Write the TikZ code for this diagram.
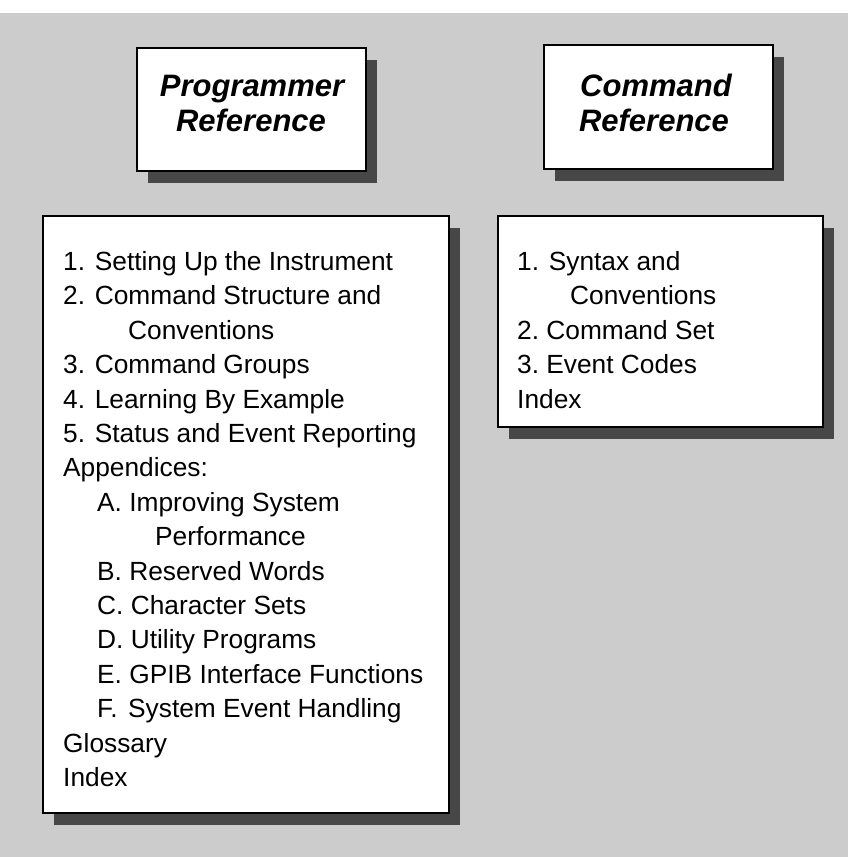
\documentclass[tikz,border=0pt]{standalone}
\usepackage{fontspec}
\setmainfont{Liberation Sans}
\usetikzlibrary{shadows}
\begin{document}
\begin{tikzpicture}[x=1pt,y=-1pt,
  page/.style={draw=black, line width=1.6pt, fill=white, anchor=north west, inner sep=0pt,
    drop shadow={shadow xshift=11pt, shadow yshift=-12pt, fill=black!72, opacity=1}},
  title/.style={font=\fontsize{31}{36}\selectfont\bfseries\itshape, anchor=base, inner sep=0pt},
  item/.style={font=\fontsize{26.3}{34}\selectfont, anchor=base west, inner sep=0pt}]
\useasboundingbox (0,0) rectangle (848,857);
\fill[gray!40] (0,13) rectangle (848,857);
% title boxes
\node[page, minimum width=229pt, minimum height=123pt] (pr) at (136,47) {};
\node[page, minimum width=229pt, minimum height=124pt] (cr) at (543,44) {};
\node[title] (prt1) at (252,96) {Programmer};
\node[title] (prt2) at (251,131) {Reference};
\node[title] (crt1) at (656,96) {Command};
\node[title] (crt2) at (654,131) {Reference};
% content boxes
\node[page, minimum width=406pt, minimum height=597pt] (pl) at (42,215) {};
\node[page, minimum width=325pt, minimum height=211pt] (cl) at (497,215) {};
\foreach \i/\xx/\txt in {
  0/63/{1. Setting Up the Instrument},
  1/63/{2. Command Structure and},
  2/128/{Conventions},
  3/63/{3. Command Groups},
  4/63/{4. Learning By Example},
  5/63/{5. Status and Event Reporting},
  6/63/{Appendices:},
  7/97/{A. Improving System},
  8/155/{Performance},
  9/97/{B. Reserved Words},
  10/97/{C. Character Sets},
  11/97/{D. Utility Programs},
  12/97/{E. GPIB Interface Functions},
  13/97/{F.\hspace{0.4em}System Event Handling},
  14/63/{Glossary},
  15/63/{Index}}
  \node[item] (p\i) at (\xx, 270.5+34.4*\i) {\txt};
\foreach \i/\xx/\txt in {
  0/517/{1. Syntax and},
  1/570/{Conventions},
  2/517/{2.\ Command Set},
  3/517/{3.\ Event Codes},
  4/517/{Index}}
  \node[item] (c\i) at (\xx, 270.5+34.4*\i) {\txt};
\end{tikzpicture}
\end{document}
